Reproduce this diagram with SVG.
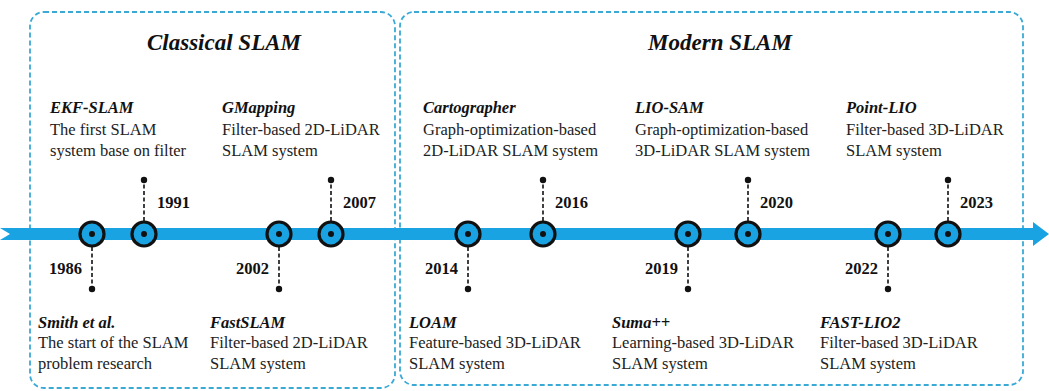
<svg xmlns="http://www.w3.org/2000/svg" width="1049" height="391" viewBox="0 0 1049 391">
<defs>
<style>
text{font-family:'Liberation Serif','Times New Roman','DejaVu Serif',serif}
.box{fill:none;stroke:#3aa9d6;stroke-width:1.8;stroke-dasharray:5,3}
.title{font-weight:bold;font-style:italic;font-size:23px;fill:#111;text-anchor:middle}
.name{font-weight:bold;font-style:italic;font-size:16.5px;fill:#111}
.desc{font-size:16.5px;fill:#222}
.year{font-weight:bold;font-size:16.5px;fill:#111}
.yr{text-anchor:end}
.stem{stroke:#111;stroke-width:1.6;stroke-dasharray:4,2.5}
.ring{fill:#1aa3e2;stroke:#111;stroke-width:3.2}
.dot{fill:#111}
</style>
</defs>
<rect width="1049" height="391" fill="#fff"/>
<g id="classical">
<rect class="box" x="30" y="12" width="365" height="376" rx="14"/>
<text class="title" x="224" y="50" font-family="Liberation Serif">Classical SLAM</text>
</g>
<g id="modern">
<rect class="box" x="400" y="12" width="623" height="373" rx="14"/>
<text class="title" x="720" y="50">Modern SLAM</text>
</g>
<g id="timeline">
<polygon points="0,228 1033,228 1033,222 1049,234 1033,246 1033,240 0,240 10,234" fill="#1aa3e2"/>
</g>
<g id="connectors">
<line class="stem" x1="92" y1="234" x2="92" y2="289"/><circle class="dot" cx="92" cy="289" r="3.2"/>
<line class="stem" x1="144" y1="234" x2="144" y2="180"/><circle class="dot" cx="144" cy="180" r="3.2"/>
<line class="stem" x1="279" y1="234" x2="279" y2="289"/><circle class="dot" cx="279" cy="289" r="3.2"/>
<line class="stem" x1="331" y1="234" x2="331" y2="180"/><circle class="dot" cx="331" cy="180" r="3.2"/>
<line class="stem" x1="468" y1="234" x2="468" y2="289"/><circle class="dot" cx="468" cy="289" r="3.2"/>
<line class="stem" x1="543" y1="234" x2="543" y2="180"/><circle class="dot" cx="543" cy="180" r="3.2"/>
<line class="stem" x1="688" y1="234" x2="688" y2="289"/><circle class="dot" cx="688" cy="289" r="3.2"/>
<line class="stem" x1="748" y1="234" x2="748" y2="180"/><circle class="dot" cx="748" cy="180" r="3.2"/>
<line class="stem" x1="888" y1="234" x2="888" y2="289"/><circle class="dot" cx="888" cy="289" r="3.2"/>
<line class="stem" x1="948" y1="234" x2="948" y2="180"/><circle class="dot" cx="948" cy="180" r="3.2"/>
</g>
<g id="n1986">
<circle class="ring" cx="92" cy="234" r="12"/><circle class="dot" cx="92" cy="234" r="3"/>
<text class="year yr" x="82" y="274">1986</text>
<text class="name" x="38" y="328">Smith et al.</text>
<text class="desc" x="38" y="348">The start of the SLAM</text>
<text class="desc" x="38" y="369">problem research</text>
</g>
<g id="n1991">
<circle class="ring" cx="144" cy="234" r="12"/><circle class="dot" cx="144" cy="234" r="3"/>
<text class="year" x="157" y="208">1991</text>
<text class="name" x="50" y="113">EKF-SLAM</text>
<text class="desc" x="50" y="135">The first SLAM</text>
<text class="desc" x="50" y="156">system base on filter</text>
</g>
<g id="n2002">
<circle class="ring" cx="279" cy="234" r="12"/><circle class="dot" cx="279" cy="234" r="3"/>
<text class="year yr" x="269" y="274">2002</text>
<text class="name" x="210" y="328">FastSLAM</text>
<text class="desc" x="210" y="348">Filter-based 2D-LiDAR</text>
<text class="desc" x="210" y="369">SLAM system</text>
</g>
<g id="n2007">
<circle class="ring" cx="331" cy="234" r="12"/><circle class="dot" cx="331" cy="234" r="3"/>
<text class="year" x="343" y="208">2007</text>
<text class="name" x="222" y="113">GMapping</text>
<text class="desc" x="222" y="135">Filter-based 2D-LiDAR</text>
<text class="desc" x="222" y="156">SLAM system</text>
</g>
<g id="n2014">
<circle class="ring" cx="468" cy="234" r="12"/><circle class="dot" cx="468" cy="234" r="3"/>
<text class="year yr" x="458" y="274">2014</text>
<text class="name" x="409" y="328">LOAM</text>
<text class="desc" x="409" y="348">Feature-based 3D-LiDAR</text>
<text class="desc" x="409" y="369">SLAM system</text>
</g>
<g id="n2016">
<circle class="ring" cx="543" cy="234" r="12"/><circle class="dot" cx="543" cy="234" r="3"/>
<text class="year" x="555" y="208">2016</text>
<text class="name" x="423" y="113">Cartographer</text>
<text class="desc" x="423" y="135">Graph-optimization-based</text>
<text class="desc" x="423" y="156">2D-LiDAR SLAM system</text>
</g>
<g id="n2019">
<circle class="ring" cx="688" cy="234" r="12"/><circle class="dot" cx="688" cy="234" r="3"/>
<text class="year yr" x="678" y="274">2019</text>
<text class="name" x="612" y="328">Suma++</text>
<text class="desc" x="612" y="348">Learning-based 3D-LiDAR</text>
<text class="desc" x="612" y="369">SLAM system</text>
</g>
<g id="n2020">
<circle class="ring" cx="748" cy="234" r="12"/><circle class="dot" cx="748" cy="234" r="3"/>
<text class="year" x="760" y="208">2020</text>
<text class="name" x="635" y="113">LIO-SAM</text>
<text class="desc" x="635" y="135">Graph-optimization-based</text>
<text class="desc" x="635" y="156">3D-LiDAR SLAM system</text>
</g>
<g id="n2022">
<circle class="ring" cx="888" cy="234" r="12"/><circle class="dot" cx="888" cy="234" r="3"/>
<text class="year yr" x="878" y="274">2022</text>
<text class="name" x="820" y="328">FAST-LIO2</text>
<text class="desc" x="820" y="348">Filter-based 3D-LiDAR</text>
<text class="desc" x="820" y="369">SLAM system</text>
</g>
<g id="n2023">
<circle class="ring" cx="948" cy="234" r="12"/><circle class="dot" cx="948" cy="234" r="3"/>
<text class="year" x="960" y="208">2023</text>
<text class="name" x="846" y="113">Point-LIO</text>
<text class="desc" x="846" y="135">Filter-based 3D-LiDAR</text>
<text class="desc" x="846" y="156">SLAM system</text>
</g>
</svg>
